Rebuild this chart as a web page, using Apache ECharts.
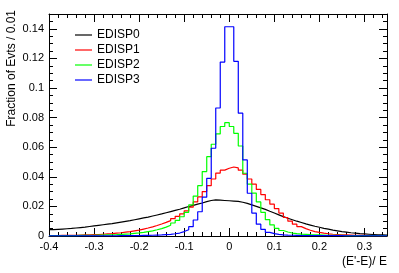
<!DOCTYPE html>
<html>
<head>
<meta charset="utf-8">
<script src="https://cdn.jsdelivr.net/npm/echarts@6/dist/echarts.min.js"></script>
<style>
html,body{margin:0;padding:0;background:#fff;}
#c{width:399px;height:273px;}
</style>
</head>
<body>
<div id="c"></div>
<script>
// Histogram binning
var binStart = -0.4;
var binWidth = 0.01;
var xMin = -0.4, xMax = 0.35;
var yMin = 0, yMax = 0.15;
var seriesNames = ['EDISP0', 'EDISP1', 'EDISP2', 'EDISP3'];
var seriesColors = ['#000000', '#ff0000', '#00ff00', '#0000ff'];

var edisp0 = [0.0043,0.0045,0.0047,0.0049,0.0051,0.0054,0.0057,0.0060,0.0064,0.0068,
 0.0072,0.0076,0.0080,0.0084,0.0089,0.0094,0.0099,0.0104,0.0110,0.0116,
 0.0122,0.0128,0.0135,0.0142,0.0149,0.0157,0.0165,0.0173,0.0181,0.0190,
 0.0199,0.0207,0.0215,0.0223,0.0232,0.0240,0.0244,0.0242,0.0240,0.0238,
 0.0236,0.0234,0.0228,0.0220,0.0210,0.0200,0.0190,0.0180,0.0167,0.0155,
 0.0143,0.0131,0.0120,0.0110,0.0100,0.0091,0.0082,0.0074,0.0066,0.0059,
 0.0052,0.0046,0.0040,0.0035,0.0030,0.0026,0.0022,0.0019,0.0016,0.0014,
 0.0012,0.0010,0.0008,0.0007,0.0006];

var edisp1 = [0.0003,0.0003,0.0004,0.0004,0.0005,0.0005,0.0006,0.0007,0.0008,0.0009,
 0.0010,0.0012,0.0014,0.0016,0.0019,0.0022,0.0026,0.0030,0.0035,0.0040,
 0.0047,0.0054,0.0062,0.0071,0.0081,0.0092,0.0104,0.0118,0.0133,0.0150,
 0.0170,0.0195,0.0230,0.0265,0.0300,0.0340,0.0385,0.0425,0.0445,0.0458,
 0.0466,0.0460,0.0445,0.0418,0.0385,0.0350,0.0315,0.0280,0.0245,0.0215,
 0.0185,0.0155,0.0125,0.0100,0.0080,0.0063,0.0050,0.0039,0.0030,0.0024,
 0.0019,0.0015,0.0012,0.0010,0.0008,0.0007,0.0006,0.0005,0.0004,0.0004,
 0.0003,0.0003,0.0002,0.0002,0.0002];

var edisp2 = [0.0002,0.0002,0.0002,0.0003,0.0003,0.0003,0.0004,0.0004,0.0005,0.0005,
 0.0006,0.0006,0.0007,0.0008,0.0009,0.0011,0.0013,0.0015,0.0018,0.0021,
 0.0025,0.0030,0.0035,0.0042,0.0050,0.0060,0.0073,0.0088,0.0105,0.0130,
 0.0160,0.0210,0.0270,0.0340,0.0435,0.0536,0.0620,0.0690,0.0740,0.0766,
 0.0740,0.0694,0.0608,0.0424,0.0350,0.0290,0.0230,0.0160,0.0110,0.0075,
 0.0052,0.0037,0.0027,0.0020,0.0016,0.0013,0.0011,0.0009,0.0008,0.0007,
 0.0006,0.0005,0.0005,0.0004,0.0004,0.0003,0.0003,0.0003,0.0002,0.0002,
 0.0002,0.0002,0.0002,0.0002,0.0002];

var edisp3 = [0.0001,0.0001,0.0001,0.0001,0.0001,0.0001,0.0001,0.0001,0.0001,0.0001,
 0.0001,0.0001,0.0001,0.0001,0.0001,0.0002,0.0002,0.0002,0.0003,0.0003,
 0.0004,0.0004,0.0005,0.0006,0.0007,0.0009,0.0011,0.0015,0.0020,0.0030,
 0.0042,0.0063,0.0108,0.0164,0.0262,0.0390,0.0593,0.0865,0.1175,0.1414,
 0.1414,0.1180,0.0830,0.0514,0.0289,0.0155,0.0080,0.0045,0.0025,0.0016,
 0.0011,0.0008,0.0006,0.0005,0.0004,0.0003,0.0003,0.0003,0.0002,0.0002,
 0.0002,0.0002,0.0002,0.0002,0.0002,0.0001,0.0001,0.0001,0.0001,0.0001,
 0.0001,0.0001,0.0001,0.0001,0.0001];

var xTitle = "(E'-E)/ E";
var yTitle = 'Fraction of Evts / 0.01';

var FONT = 'Liberation Sans, Arial, Helvetica, sans-serif';

function histData(vals) {
  var d = [];
  for (var i = 0; i < vals.length; i++) {
    d.push([+(binStart + i * binWidth).toFixed(4), vals[i]]);
  }
  d.push([+(binStart + vals.length * binWidth).toFixed(4), vals[vals.length - 1]]);
  return d;
}

var allVals = [edisp0, edisp1, edisp2, edisp3];
var series = allVals.map(function (v, k) {
  return {
    name: seriesNames[k],
    type: 'line',
    step: 'end',
    symbol: 'none',
    data: histData(v),
    lineStyle: { color: seriesColors[k], width: 1.2 },
    itemStyle: { color: seriesColors[k] },
    animation: false,
    z: 2 + k
  };
});

function xAx(pos, major, showLabel) {
  return {
    type: 'value', position: pos, min: xMin, max: xMax,
    interval: major ? 0.1 : 0.02,
    axisLine: { show: major, onZero: false, lineStyle: { color: '#000', width: 1 } },
    axisTick: { show: true, inside: true, length: major ? 8 : 4, lineStyle: { color: '#000', width: 1 } },
    axisLabel: { show: showLabel, showMaxLabel: false, color: '#000', fontSize: 11, fontFamily: FONT, margin: 5,
      formatter: function (v) { return (Math.round(v * 10) / 10).toString(); } },
    splitLine: { show: false },
    name: showLabel ? xTitle : '',
    nameLocation: 'end', nameGap: 0,
    nameTextStyle: { align: 'right', verticalAlign: 'top', padding: [20, 0, 0, 0], color: '#000', fontSize: 12, fontFamily: FONT }
  };
}
function yAx(pos, major, showLabel) {
  return {
    type: 'value', position: pos, min: yMin, max: yMax,
    interval: major ? 0.02 : 0.005,
    axisLine: { show: major, onZero: false, lineStyle: { color: '#000', width: 1 } },
    axisTick: { show: true, inside: true, length: major ? 8 : 4, lineStyle: { color: '#000', width: 1 } },
    axisLabel: { show: showLabel, showMaxLabel: false, color: '#000', fontSize: 11, fontFamily: FONT, margin: 5,
      formatter: function (v) { return (Math.round(v * 100) / 100).toString(); } },
    splitLine: { show: false }
  };
}

var chart = echarts.init(document.getElementById('c'), null, { renderer: 'canvas' });
chart.setOption({
  backgroundColor: '#fff',
  animation: false,
  grid: { left: 49, right: 12, top: 14, bottom: 37, containLabel: false },
  xAxis: [xAx('bottom', true, true), xAx('bottom', false, false), xAx('top', true, false), xAx('top', false, false)],
  yAxis: [yAx('left', true, true), yAx('left', false, false), yAx('right', true, false), yAx('right', false, false)],
  legend: {
    orient: 'vertical', left: 75, top: 29, padding: 0, itemGap: 3,
    itemWidth: 17, itemHeight: 12,
    icon: 'path://M0,0L20,0L20,1.4L0,1.4Z',
    textStyle: { color: '#000', fontSize: 12, fontFamily: FONT },
    data: seriesNames
  },
  graphic: [{
    type: 'text', x: 12, y: 10, rotation: Math.PI / 2,
    style: { text: yTitle, textAlign: 'right', textVerticalAlign: 'middle', fill: '#000', font: '12px ' + FONT }
  }],
  series: series
});
</script>
</body>
</html>
